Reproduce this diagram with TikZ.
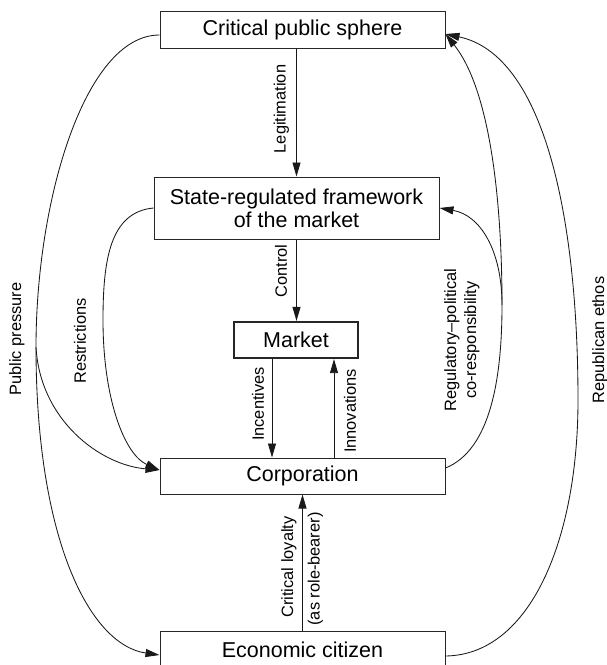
\documentclass[tikz,border=0pt]{standalone}
\usepackage{fontspec}
\setmainfont{Liberation Sans}
\usetikzlibrary{arrows.meta}
\tikzset{
  box/.style={draw=black!85, line width=1pt, inner sep=0pt, align=center,
    font=\fontsize{21.5}{23}\selectfont},
  mbox/.style={box, line width=2.2pt},
  lbl/.style={inner sep=0pt, align=center, rotate=90,
    font=\fontsize{16.4}{20}\selectfont},
  arr/.style={line width=0.85pt, draw=black!90,
    -{Triangle[length=14pt,width=8pt]}},
}
\begin{document}
\begin{tikzpicture}[x=1pt,y=-1pt]
\useasboundingbox (0,0) rectangle (607,665);

% boxes
\node[box, minimum width=285pt, minimum height=37pt] (cps) at (302.5,29.5) {Critical public sphere};
\node[box, minimum width=285pt, minimum height=62pt] (state) at (296.5,208) {State-regulated framework\\of the market};
\node[mbox, minimum width=124pt, minimum height=36pt] (market) at (296,340) {Market};
\node[box, minimum width=285pt, minimum height=36pt] (corp) at (302.5,476) {Corporation};
\node[box, minimum width=285pt, minimum height=37pt] (econ) at (302.5,649.5) {Economic citizen};

% helper points
\coordinate (xinc) at (272,0);
\coordinate (xinn) at (334,0);
\coordinate (pp) at (36,347);
\coordinate (rs) at (103,320);
\coordinate (rp) at (502,305);
\coordinate (re) at (578,400);

% straight arrows
\draw[arr] (cps.south -| state.center) -- (state.north);
\draw[arr] (state.south) -- (market.north -| state.center);
\draw[arr] (market.south -| xinc) -- (corp.north -| xinc);
\draw[arr] (corp.north -| xinn) -- (market.south -| xinn);
\draw[arr] (econ.north) -- (corp.south);

% left curves
\draw[arr] ([yshift=-5.5pt]cps.west) .. controls (85,35) and (36,200) .. (pp)
  .. controls (36,540) and (90,645) .. ([yshift=-5.5pt]econ.west);
\draw[arr] (pp) .. controls (40,420) and (100,465) .. ([yshift=6pt]corp.west);
\draw[arr] (state.west) .. controls (110,212) and (103,260) .. (rs)
  .. controls (103,400) and (125,455) .. ([yshift=6pt]corp.west);

% right curves
\draw[arr] ([yshift=8pt]corp.east) .. controls (490,450) and (502,380) .. (rp)
  .. controls (502,250) and (480,215) .. (state.east);
\draw[arr] (rp) .. controls (502,200) and (490,90) .. ([yshift=-4.5pt]cps.east);
\draw[arr] ([yshift=-6.5pt]econ.east) .. controls (530,655) and (578,540) .. (re)
  .. controls (578,220) and (545,55) .. ([yshift=-4.5pt]cps.east);

% labels
\node[lbl] (lLeg) at (281.5,109) {Legitimation};
\node[lbl] (lCon) at (281,271) {Control};
\node[lbl] (lInc) at (258,404) {Incentives};
\node[lbl] (lInn) at (350,411) {Innovations};
\node[lbl] (lCrit) at (289,567) {Critical loyalty};
\node[lbl] (lRole) at (315.5,569) {(as role-bearer)};
\node[lbl] (lPub) at (17,339) {Public pressure};
\node[lbl] (lRes) at (80,341) {Restrictions};
\node[lbl] (lReg) at (462,340) {Regulatory--political\\co-responsibility};
\node[lbl] (lRep) at (600,340) {Republican ethos};
\end{tikzpicture}
\end{document}
